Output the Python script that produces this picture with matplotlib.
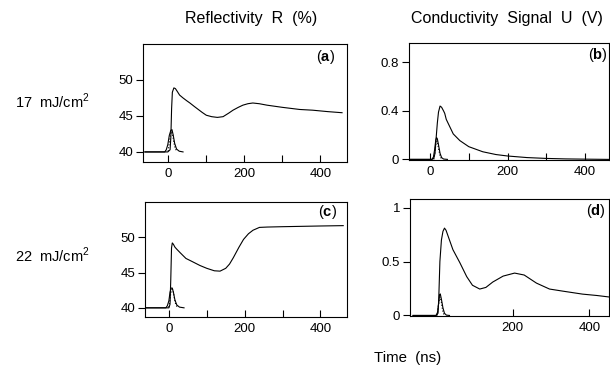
import matplotlib
matplotlib.use("Agg")
import matplotlib.pyplot as plt

plt.rcParams["font.family"] = ["Liberation Sans", "DejaVu Sans"]
plt.rcParams["mathtext.fontset"] = "custom"
plt.rcParams["mathtext.rm"] = "Liberation Sans"
plt.rcParams["mathtext.bf"] = "Liberation Sans:bold"

# ---- (a) reflectivity, 17 mJ/cm2 ----
t_a = [-60, -20, 0, 6, 8, 10, 12, 16, 20, 25, 31, 40, 50, 58, 70, 80, 90, 101,
       115, 130, 145, 160, 171, 185, 197, 210, 223, 240, 260, 300, 346, 380,
       420, 457]
r_a = [40.0, 40.0, 40.0, 40.3, 42.0, 46.0, 48.3, 48.9, 48.8, 48.4, 47.9, 47.5,
       47.1, 46.8, 46.3, 45.9, 45.5, 45.1, 44.9, 44.8, 44.9, 45.4, 45.8, 46.2,
       46.5, 46.7, 46.8, 46.7, 46.5, 46.2, 45.9, 45.8, 45.6, 45.45]
tp_a = [-60, -8, -4, 0, 4, 8, 11, 14, 18, 23, 30, 40]
rp_a = [40.0, 40.0, 40.3, 41.0, 42.3, 43.0, 43.1, 42.4, 41.2, 40.4, 40.1, 40.0]
td_a = [1, 4, 7, 9, 11, 13, 16, 19, 23]
rd_a = [40.1, 41.3, 42.4, 42.8, 42.8, 42.3, 41.3, 40.6, 40.1]

# ---- (c) reflectivity, 22 mJ/cm2 ----
t_c = [-60, 0, 3, 5, 7, 9, 12, 16, 21, 30, 45, 60, 82, 100, 120, 135, 150,
       160, 170, 185, 197, 210, 222, 239, 260, 300, 350, 400, 460]
r_c = [40.0, 40.0, 40.5, 44.0, 48.5, 49.2, 49.0, 48.6, 48.3, 47.8, 47.0,
       46.6, 46.0, 45.6, 45.25, 45.2, 45.6, 46.2, 47.1, 48.6, 49.7, 50.5,
       51.0, 51.4, 51.45, 51.5, 51.55, 51.6, 51.65]
tp_c = [-60, -8, -4, 0, 3, 6, 9, 12, 16, 21, 28, 40]
rp_c = [40.0, 40.0, 40.3, 41.0, 42.2, 42.8, 42.8, 42.2, 41.1, 40.4, 40.1, 40.0]
td_c = [0, 3, 5, 8, 10, 12, 15, 18, 22]
rd_c = [40.1, 41.2, 42.1, 42.6, 42.6, 42.1, 41.2, 40.5, 40.1]

# ---- (b) conductivity, 17 mJ/cm2 ----
t_b = [-60, 5, 10, 13, 16, 19, 22, 26, 30, 35, 38, 42, 51, 60, 77, 100, 136,
       170, 200, 250, 300, 350, 400, 460]
u_b = [0.0, 0.0, 0.01, 0.05, 0.18, 0.30, 0.39, 0.44, 0.43, 0.40, 0.38, 0.33,
       0.27, 0.21, 0.155, 0.105, 0.063, 0.04, 0.028, 0.015, 0.008, 0.004,
       0.002, 0.0]
tp_b = [-60, 5, 9, 12, 15, 17, 19, 22, 26, 30, 35, 45]
up_b = [0.0, 0.0, 0.02, 0.08, 0.16, 0.18, 0.17, 0.12, 0.05, 0.015, 0.003, 0.0]
td_b = [10, 13, 16, 19, 22, 26, 30]
ud_b = [0.0, 0.07, 0.14, 0.15, 0.09, 0.03, 0.0]

# ---- (d) conductivity, 22 mJ/cm2 ----
t_d = [-60, 0, 5, 7, 10, 14, 18, 22, 26, 35, 44, 62, 80, 95, 114, 130, 148,
       175, 205, 230, 262, 296, 330, 382, 420, 450]
u_d = [0.0, 0.0, 0.02, 0.15, 0.5, 0.7, 0.78, 0.81, 0.79, 0.70, 0.61, 0.49,
       0.36, 0.28, 0.245, 0.26, 0.31, 0.365, 0.393, 0.375, 0.30, 0.245,
       0.226, 0.198, 0.185, 0.172]
tp_d = [-60, 0, 4, 7, 9, 11, 14, 18, 22, 27, 35]
up_d = [0.0, 0.0, 0.03, 0.12, 0.19, 0.20, 0.15, 0.07, 0.02, 0.003, 0.0]
td_d = [3, 6, 9, 11, 14, 17, 21]
ud_d = [0.0, 0.09, 0.16, 0.17, 0.12, 0.05, 0.0]

W, H = 610, 366
fig = plt.figure(figsize=(W / 100, H / 100), dpi=100)


def box(l, r, t, b):
    return [l / W, 1 - b / H, (r - l) / W, (b - t) / H]


LW = 0.8
FS = 9.5


def style(ax, xlim, ylim, xticks, xlabels, yticks, ylabels, tag, tx, ty):
    ax.set_xlim(*xlim)
    ax.set_ylim(*ylim)
    ax.set_xticks(xticks)
    ax.set_xticklabels(xlabels, fontsize=FS)
    ax.set_yticks(yticks)
    ax.set_yticklabels(ylabels, fontsize=FS)
    ax.tick_params(axis="x", direction="in", length=5, width=0.8, pad=4)
    ax.tick_params(axis="y", direction="out", length=5, width=0.8, pad=2)
    for s in ax.spines.values():
        s.set_linewidth(0.8)
    ax.text(tx, ty, r"($\mathbf{%s}$)" % tag, transform=ax.transAxes,
            ha="center", va="center", fontsize=10.5)


ax_a = fig.add_axes(box(143, 347, 44, 162))
ax_a.plot(t_a, r_a, color="black", lw=LW)
ax_a.plot(tp_a, rp_a, color="black", lw=LW)
ax_a.plot(td_a, rd_a, color="black", lw=LW, ls=":")
style(ax_a, (-65, 470), (38.6, 55), [0, 100, 200, 300, 400],
      ["0", "", "200", "", "400"], [40, 45, 50], ["40", "45", "50"], "a",
      0.895, 0.89)

ax_c = fig.add_axes(box(145, 347, 202, 317))
ax_c.plot(t_c, r_c, color="black", lw=LW)
ax_c.plot(tp_c, rp_c, color="black", lw=LW)
ax_c.plot(td_c, rd_c, color="black", lw=LW, ls=":")
style(ax_c, (-63, 470), (38.7, 55), [0, 100, 200, 300, 400],
      ["0", "", "200", "", "400"], [40, 45, 50], ["40", "45", "50"], "c",
      0.905, 0.91)

ax_b = fig.add_axes(box(409, 608.5, 43, 160))
ax_b.plot(t_b, u_b, color="black", lw=LW)
ax_b.plot(tp_b, up_b, color="black", lw=LW)
ax_b.plot(td_b, ud_b, color="black", lw=LW, ls=":")
style(ax_b, (-54, 460), (-0.005, 0.96), [0, 100, 200, 300, 400],
      ["0", "", "200", "", "400"], [0, 0.4, 0.8], ["0", "0.4", "0.8"], "b",
      0.945, 0.9)

ax_d = fig.add_axes(box(410, 608.5, 199, 316))
ax_d.plot(t_d, u_d, color="black", lw=LW)
ax_d.plot(tp_d, up_d, color="black", lw=LW)
ax_d.plot(td_d, ud_d, color="black", lw=LW, ls=":")
style(ax_d, (-68, 450), (-0.005, 1.08), [200, 400], ["200", "400"],
      [0, 0.5, 1], ["0", "0.5", "1"], "d", 0.935, 0.9)

fig.text(251 / W, 1 - 18 / H, "Reflectivity  R  (%)", ha="center",
         va="center", fontsize=11.5)
fig.text(507 / W, 1 - 18 / H, "Conductivity  Signal  U  (V)", ha="center",
         va="center", fontsize=11.5)
fig.text(52 / W, 1 - 101 / H, "17  mJ/cm$^{2}$", ha="center", va="center",
         fontsize=10.5)
fig.text(52 / W, 1 - 255 / H, "22  mJ/cm$^{2}$", ha="center", va="center",
         fontsize=10.5)
fig.text(408 / W, 1 - 358 / H, "Time  (ns)", ha="center", va="center",
         fontsize=10.8)

fig.savefig("out.png", dpi=100)
